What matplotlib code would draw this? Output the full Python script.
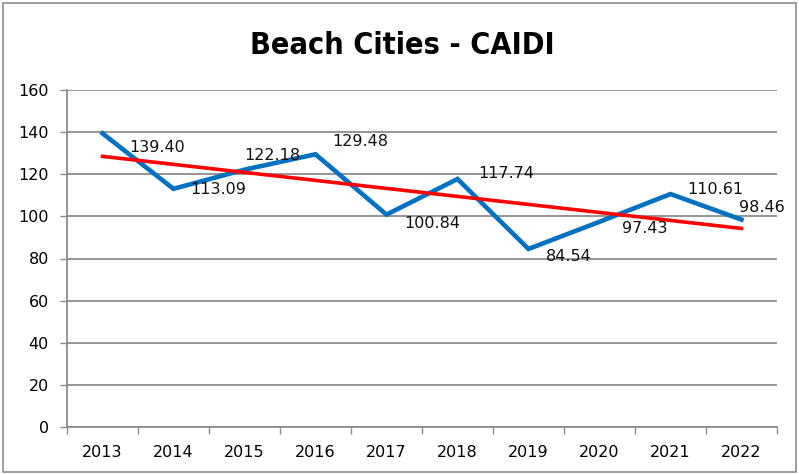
"""Beach Cities - CAIDI line chart with linear trendline."""

import numpy as np
import matplotlib
matplotlib.use("Agg")
import matplotlib.pyplot as plt
from matplotlib.patches import Rectangle

years = ["2013", "2014", "2015", "2016", "2017", "2018", "2019", "2020", "2021", "2022"]
caidi = [139.40, 113.09, 122.18, 129.48, 100.84, 117.74, 84.54, 97.43, 110.61, 98.46]
y_ticks = [0, 20, 40, 60, 80, 100, 120, 140, 160]

# label offsets (pixels) from each point, hand-placed like in the original
label_dx = [55, 45, 28, 45, 46, 49, 40, 45, 45, 20]
label_dy = [-14, -1, 14, 13, -9, 6, -8, -7, 5, 12]

W, H = 799, 474
fig = plt.figure(figsize=(W / 100, H / 100), dpi=100)
fig.patch.set_facecolor("white")
fig.patches.append(Rectangle((3 / W, 2 / H), 793 / W, 469 / H, transform=fig.transFigure,
                             fill=False, edgecolor="#8c8c8c", linewidth=1.2))

ax = fig.add_axes([67 / W, (H - 427) / H, 710 / W, (427 - 90) / H])

x = np.arange(len(years)) + 0.5
ax.plot(x, caidi, color="#0070C0", linewidth=3.3, solid_joinstyle="miter", zorder=3)

# linear trendline, like Excel's
slope, intercept = np.polyfit(np.arange(len(years)), caidi, 1)
trend = slope * np.arange(len(years)) + intercept
ax.plot(x, trend, color="#FF0000", linewidth=2.6, zorder=4)

for xi, v, dx, dy in zip(x, caidi, label_dx, label_dy):
    ax.annotate(f"{v:.2f}", (xi, v), xytext=(dx, dy), textcoords="offset pixels",
                ha="center", va="center", fontsize=11.5, color="#111111", zorder=5)

ax.set_xlim(0, len(years))
ax.set_ylim(0, 160)
ax.set_yticks(y_ticks)
ax.set_yticklabels([str(t) for t in y_ticks])
ax.set_xticks(np.arange(len(years) + 1))
ax.set_xticklabels([])
ax.set_xticks(x, minor=True)
ax.set_xticklabels(years, minor=True)
ax.tick_params(axis="x", which="minor", length=0, pad=13, labelsize=11.5)
ax.tick_params(axis="x", which="major", length=5, color="#8c8c8c", width=1)
ax.tick_params(axis="y", length=5, color="#8c8c8c", width=1, pad=8, labelsize=11.5)

ax.grid(axis="y", color="#8c8c8c", linewidth=1.3)
ax.set_axisbelow(True)
for s in ["top", "right"]:
    ax.spines[s].set_visible(False)
for s in ["left", "bottom"]:
    ax.spines[s].set_color("#8c8c8c")
    ax.spines[s].set_linewidth(1.3)

fig.text(0.503, 1 - 45 / H, "Beach Cities - CAIDI", ha="center", va="center",
         fontsize=22, fontweight="bold", fontstretch="condensed", family="DejaVu Sans")

fig.savefig("out.png", dpi=100)
